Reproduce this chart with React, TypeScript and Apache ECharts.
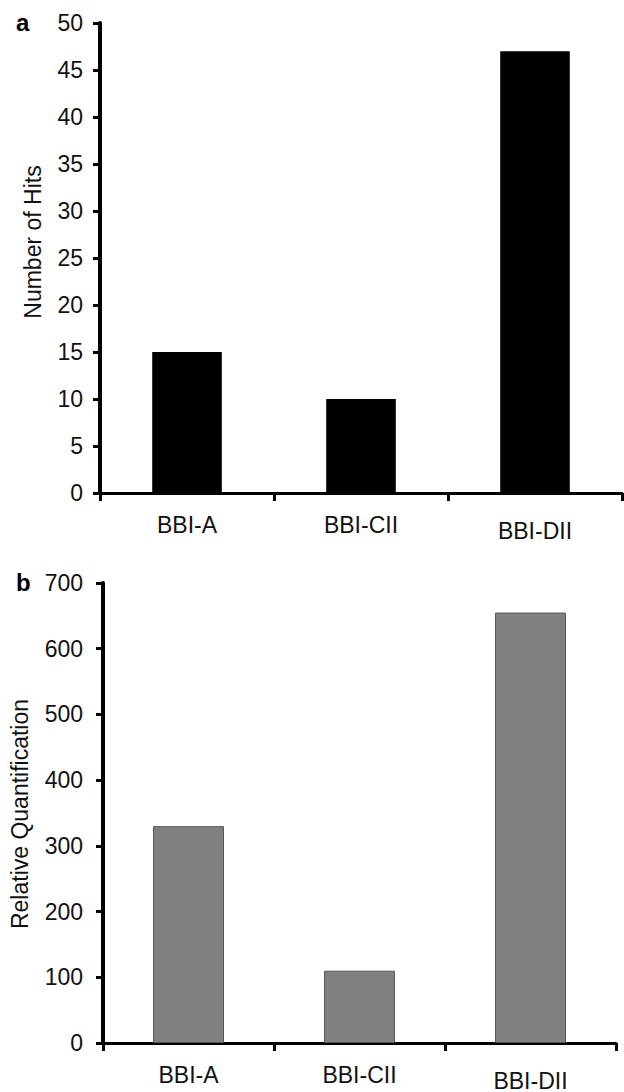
import React, { useEffect, useRef } from "react";
import * as echarts from "echarts";

const categories = ["BBI-A", "BBI-CII", "BBI-DII"];
const hitsValues = [15, 10, 47];
const quantValues = [330, 110, 655];
const hitsAxis = { min: 0, max: 50, interval: 5 };
const quantAxis = { min: 0, max: 700, interval: 100 };
const hitsTitle = "Number of Hits";
const quantTitle = "Relative Quantification";
const panelLabels = ["a", "b"];

const FONT = "'Liberation Sans', Arial, Helvetica, sans-serif";
const TXT = "#111";

function catLabel(margin: number) {
  return {
    margin,
    fontFamily: FONT,
    fontSize: 23,
    color: TXT,
    formatter: (v: string) => (v === "BBI-DII" ? `{d|${v}}` : `{n|${v}}`),
    rich: {
      n: { fontFamily: FONT, fontSize: 23, lineHeight: 23, color: TXT },
      d: { fontFamily: FONT, fontSize: 23, lineHeight: 35, color: TXT },
    },
  };
}

function xAxisCfg(gridIndex: number, margin: number) {
  return {
    type: "category",
    gridIndex,
    data: categories,
    boundaryGap: true,
    axisLine: { show: true, lineStyle: { color: "#000", width: 3 } },
    axisTick: { show: true, alignWithLabel: false, length: 8, lineStyle: { color: "#000", width: 3 } },
    axisLabel: catLabel(margin),
    splitLine: { show: false },
  };
}

function yAxisCfg(gridIndex: number, ax: { min: number; max: number; interval: number }, labelMargin: number) {
  return {
    type: "value",
    gridIndex,
    min: ax.min,
    max: ax.max,
    interval: ax.interval,
    axisLine: { show: true, lineStyle: { color: "#000", width: 4 } },
    axisTick: { show: true, length: 7, lineStyle: { color: "#000", width: 3 } },
    axisLabel: { margin: labelMargin, fontFamily: FONT, fontSize: 23, color: TXT },
    splitLine: { show: false },
  };
}

function vTitle(text: string, x: number, y: number) {
  return {
    type: "text",
    x,
    y,
    rotation: Math.PI / 2,
    style: {
      text,
      fontFamily: FONT,
      fontSize: 23,
      fill: TXT,
      align: "center",
      verticalAlign: "middle",
      textAlign: "center",
      textVerticalAlign: "middle",
    },
  };
}

export default function App() {
  const ref = useRef<HTMLDivElement>(null);
  useEffect(() => {
    if (!ref.current) return;
    const chart = echarts.init(ref.current, null, { renderer: "svg" });
    chart.setOption({
      animation: false,
      backgroundColor: "#fff",
      grid: [
        { left: 100, top: 23, width: 522, height: 470 },
        { left: 103, top: 583, width: 513, height: 462 },
      ],
      xAxis: [xAxisCfg(0, 20), xAxisCfg(1, 20)],
      yAxis: [yAxisCfg(0, hitsAxis, 17), yAxisCfg(1, quantAxis, 20)],
      series: [
        {
          type: "bar",
          xAxisIndex: 0,
          yAxisIndex: 0,
          data: hitsValues,
          barWidth: "40%",
          itemStyle: { color: "#000" },
        },
        {
          type: "bar",
          xAxisIndex: 1,
          yAxisIndex: 1,
          data: quantValues,
          barWidth: "41.5%",
          itemStyle: { color: "#808080", borderColor: "#555", borderWidth: 1 },
        },
      ],
      graphic: [
        {
          type: "text",
          left: 16,
          top: 10,
          style: { text: panelLabels[0], fontFamily: FONT, fontSize: 24, fontWeight: "bold", fill: "#000" },
        },
        {
          type: "text",
          left: 16,
          top: 570,
          style: { text: panelLabels[1], fontFamily: FONT, fontSize: 24, fontWeight: "bold", fill: "#000" },
        },
        vTitle(hitsTitle, 33, 242),
        vTitle(quantTitle, 20, 814),
      ],
    });
    return () => chart.dispose();
  }, []);
  return (
    <div
      ref={ref}
      style={{ position: "absolute", left: 0, top: 0, width: 624, height: 1092, background: "#fff" }}
    />
  );
}
